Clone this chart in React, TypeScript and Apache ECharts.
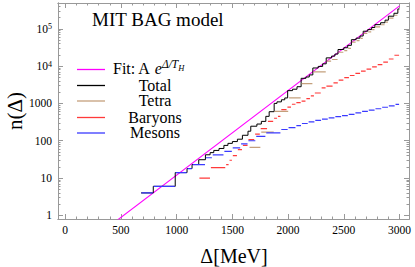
import React, { useEffect, useRef } from "react";
import * as echarts from "echarts";

// ---- data ----
const fitX = [0, 3000];
const fitN = [0.065, 4.1e5];

const totalX = [680, 790, 987, 1093, 1138, 1198, 1258, 1300, 1333, 1380, 1424, 1460, 1500, 1545, 1590, 1640, 1665, 1720, 1760, 1800, 1830, 1875, 1900, 1940, 1970, 1996, 2040, 2080, 2117, 2160, 2190, 2222, 2270, 2310, 2342, 2390, 2420, 2448, 2500, 2535, 2568, 2610, 2645, 2674, 2715, 2750, 2779, 2830, 2870, 2900, 2950, 2985, 3000];
const totalN = [4, 6, 14, 18, 23, 31, 42, 48, 55, 62, 75, 85, 95, 110, 140, 180, 245, 280, 330, 450, 600, 1000, 1100, 1250, 1400, 2200, 2400, 2800, 4700, 5100, 5800, 8900, 9800, 11500, 16600, 18500, 21000, 27800, 31000, 36000, 51000, 56000, 64000, 86000, 95000, 108000, 129000, 145000, 170000, 217000, 260000, 340000];

const tetraX = [1650, 1755, 1875, 2005, 2117, 2222, 2342, 2390, 2448, 2500, 2535, 2568, 2610, 2645, 2674, 2715, 2750, 2779, 2830, 2870, 2900, 2950, 2985, 3000];
const tetraN = [66, 170, 615, 1400, 3400, 7000, 13500, 15000, 23500, 26000, 30000, 44000, 48000, 55000, 75000, 83000, 95000, 113000, 128000, 150000, 193000, 230000, 300000];

const baryonsX = [1200, 1303, 1440, 1470, 1500, 1545, 1590, 1640, 1700, 1750, 1815, 1870, 1905, 1935, 1990, 2030, 2070, 2117, 2160, 2200, 2236, 2297, 2340, 2403, 2450, 2500, 2550, 2600, 2650, 2700, 2750, 2800, 2850, 2900, 2950, 3000];
const baryonsN = [10, 19, 23, 30, 40, 58, 75, 107, 150, 210, 330, 400, 450, 680, 800, 950, 1050, 1150, 1350, 1600, 1900, 2600, 2900, 3550, 4200, 4900, 5600, 6400, 7300, 8300, 9500, 11000, 12800, 15500, 19500];

const mesonsX = [680, 790, 987, 1093, 1140, 1258, 1320, 1424, 1499, 1574, 1640, 1710, 1800, 1935, 2000, 2070, 2120, 2180, 2240, 2300, 2360, 2420, 2480, 2540, 2600, 2660, 2720, 2780, 2840, 2900, 2960, 3000];
const mesonsN = [4, 6, 14, 18, 23, 35, 42, 52, 64, 82, 100, 131, 162, 200, 225, 255, 290, 320, 350, 380, 410, 440, 470, 510, 560, 610, 660, 720, 790, 860, 940];

const xMajor = [0, 500, 1000, 1500, 2000, 2500, 3000];
const xMinor = [100, 200, 300, 400, 600, 700, 800, 900, 1100, 1200, 1300, 1400, 1600, 1700, 1800, 1900, 2100, 2200, 2300, 2400, 2600, 2700, 2800, 2900, 3000];
const yMajor = [1, 10, 100, 1000, 10000, 100000];
const yMinor = [2, 3, 4, 5, 6, 7, 8, 9, 20, 30, 40, 50, 60, 70, 80, 90, 200, 300, 400, 500, 600, 700, 800, 900, 2000, 3000, 4000, 5000, 6000, 7000, 8000, 9000, 20000, 30000, 40000, 50000, 60000, 70000, 80000, 90000, 200000, 300000, 400000];

const legendLabels = ["Total", "Tetra", "Baryons", "Mesons"];

const FONT = "'Liberation Serif', 'Times New Roman', serif";
const FRAME = "#999999";
const C_FIT = "#ff00ff";
const C_TOTAL = "#000000";
const C_TETRA = "#c4a07c";
const C_BAR = "#ff3a3a";
const C_MES = "#3a3aff";

function segments(xs: number[], ns: number[], gap: number) {
  const out: any[] = [];
  for (let i = 0; i < ns.length; i++) {
    out.push([xs[i] + gap, ns[i]]);
    out.push([xs[i + 1] - gap, ns[i]]);
    out.push([xs[i + 1], "-"]);
  }
  return out;
}

function steps(xs: number[], ns: number[]) {
  return xs.map((x, i) => [x, ns[Math.min(i, ns.length - 1)]]);
}

export default function App() {
  const ref = useRef<HTMLDivElement>(null);
  useEffect(() => {
    const chart = echarts.init(ref.current!, null, { renderer: "svg" });
    const xMin = -65, xMax = 3085, yMin = 0.8, yMax = 4.9e5;

    const xAx = (position: string, values: number[], len: number, label: boolean) => ({
      type: "value",
      min: xMin,
      max: xMax,
      position,
      axisLine: { show: true, onZero: false, lineStyle: { color: FRAME, width: 1 } },
      axisTick: { show: true, inside: true, length: len, customValues: values, lineStyle: { color: FRAME } },
      axisLabel: label
        ? { show: true, customValues: values, color: "#000", fontFamily: FONT, fontSize: 11.5, margin: 5, formatter: (v: number) => String(Math.round(v)) }
        : { show: false },
      splitLine: { show: false },
    });
    const yAx = (position: string, values: number[], len: number, label: boolean) => ({
      type: "log",
      logBase: 10,
      min: yMin,
      max: yMax,
      position,
      axisLine: { show: true, onZero: false, lineStyle: { color: FRAME, width: 1 } },
      axisTick: { show: true, inside: true, length: len, customValues: values, lineStyle: { color: FRAME } },
      axisLabel: label
        ? {
            show: true,
            customValues: values,
            color: "#000",
            fontFamily: FONT,
            fontSize: 11.5,
            margin: 6,
            formatter: (v: number) => {
              const e = Math.round(Math.log10(v));
              return e >= 4 ? `{b|10}{s|${e}}` : String(Math.round(v));
            },
            rich: {
              b: { fontFamily: FONT, fontSize: 11.5, color: "#000" },
              s: { fontFamily: FONT, fontSize: 8, color: "#000", verticalAlign: "top" },
            },
          }
        : { show: false },
      splitLine: { show: false },
    });

    const lineBase = { type: "line", showSymbol: false, symbol: "none", xAxisIndex: 0, yAxisIndex: 0, clip: true, connectNulls: false, silent: true };

    const legendY = [85, 100.5, 117, 132.5];
    const legendColors = [C_TOTAL, C_TETRA, C_BAR, C_MES];

    const graphic: any[] = [
      { type: "text", x: 92, y: 19, style: { text: "MIT BAG model", font: `19px ${FONT}`, fill: "#000", verticalAlign: "middle" } },
      { type: "text", x: 15, y: 111, rotation: Math.PI / 2, style: { text: "n(Δ)", font: `21px ${FONT}`, fill: "#000", align: "center", verticalAlign: "middle" } },
      { type: "text", x: 234, y: 256, style: { text: "Δ[MeV]", font: `20px ${FONT}`, fill: "#000", align: "center", verticalAlign: "middle" } },
      { type: "line", shape: { x1: 77, y1: 69.5, x2: 105, y2: 69.5 }, style: { stroke: C_FIT, lineWidth: 1.3 } },
      {
        type: "text",
        x: 113,
        y: 69,
        style: {
          text: "{a|Fit: A }{e|e}{s|Δ/T}{h|H}",
          verticalAlign: "middle",
          rich: {
            a: { fontFamily: FONT, fontSize: 16, fill: "#000", lineHeight: 14, verticalAlign: "bottom" },
            e: { fontFamily: FONT, fontSize: 16, fontStyle: "italic", fill: "#000", lineHeight: 14, verticalAlign: "bottom" },
            s: { fontFamily: FONT, fontSize: 11.5, fontStyle: "italic", fill: "#000", verticalAlign: "top", lineHeight: 10, padding: [-4, 0, 0, 0] },
            h: { fontFamily: FONT, fontSize: 8.5, fontStyle: "italic", fill: "#000", verticalAlign: "top", lineHeight: 8, padding: [1, 0, 0, 0] },
          },
        },
      },
    ];
    legendLabels.forEach((lab, i) => {
      graphic.push({ type: "line", shape: { x1: 77, y1: legendY[i] + 0.5, x2: 105, y2: legendY[i] + 0.5 }, style: { stroke: legendColors[i], lineWidth: 1.3 } });
      graphic.push({ type: "text", x: 155, y: legendY[i], style: { text: lab, font: `16px ${FONT}`, lineHeight: 13, fill: "#000", align: "center", verticalAlign: "middle" } });
    });

    const option: any = {
      animation: false,
      backgroundColor: "#ffffff",
      grid: { left: 58, right: 6, top: 3, bottom: 48, containLabel: false, outerBoundsMode: "none" },
      xAxis: [xAx("bottom", xMajor, 5, true), xAx("bottom", xMinor, 2.5, false), xAx("top", xMajor, 5, false), xAx("top", xMinor, 2.5, false)],
      yAxis: [yAx("left", yMajor, 5, true), yAx("left", yMinor, 2.5, false), yAx("right", yMajor, 5, false), yAx("right", yMinor, 2.5, false)],
      series: [
        { ...lineBase, name: "Fit", data: fitX.map((x, i) => [x, fitN[i]]), lineStyle: { color: C_FIT, width: 1.1 }, z: 2 },
        { ...lineBase, name: "Total", step: "end", data: steps(totalX, totalN), lineStyle: { color: C_TOTAL, width: 1 }, z: 3 },
        { ...lineBase, name: "Tetra", data: segments(tetraX, tetraN, 4), lineStyle: { color: C_TETRA, width: 1.2 }, z: 4 },
        { ...lineBase, name: "Baryons", data: segments(baryonsX, baryonsN, 4), lineStyle: { color: C_BAR, width: 1.2 }, z: 5 },
        { ...lineBase, name: "Mesons", data: segments(mesonsX, mesonsN, 4), lineStyle: { color: C_MES, width: 1.2 }, z: 6 },
      ],
      graphic,
    };
    chart.setOption(option);
    return () => chart.dispose();
  }, []);
  return <div ref={ref} style={{ position: "fixed", left: 0, top: 0, width: 415, height: 267, background: "#fff" }} />;
}
